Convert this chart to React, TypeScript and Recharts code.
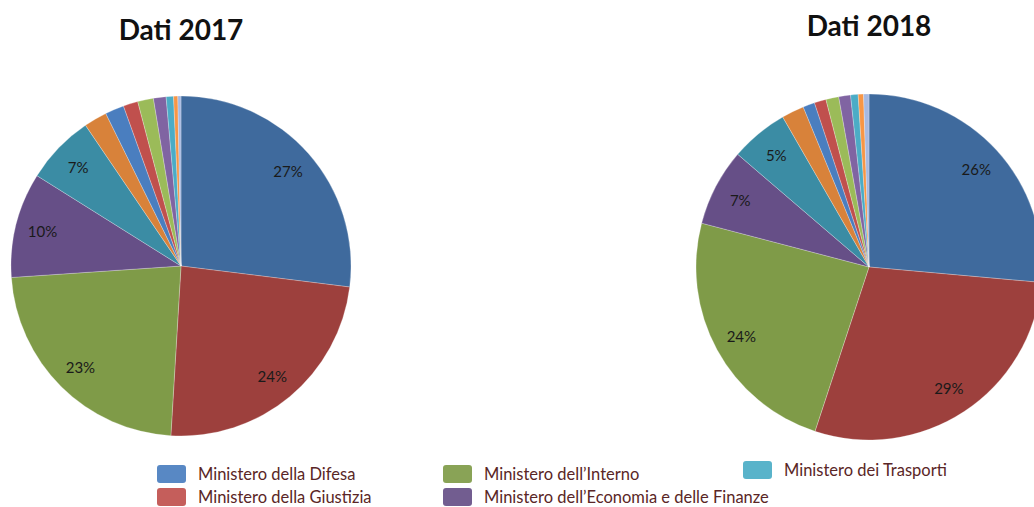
import { PieChart, Pie, Cell } from 'recharts';

// slice values in percent, clockwise from 12 o'clock
const values2017 = [27, 24, 23, 10, 6.6, 2.2, 1.8, 1.4, 1.5, 1.2, 0.7, 0.4, 0.3];
const values2018 = [26.4, 28.6, 24.0, 7.2, 5.4, 2.1, 1.1, 1.1, 1.2, 1.1, 0.7, 0.5, 0.5];

const sliceColors = [
  '#3F6A9D', '#9D403D', '#7F9B48', '#664F87', '#3B8CA4', '#D8823A',
  '#4A7EBF', '#C0504D', '#9BBB59', '#8064A2', '#4BACC6', '#F79646', '#A6B9E1',
];

const legendNames = [
  'Ministero della Difesa',
  'Ministero della Giustizia',
  "Ministero dell’Interno",
  "Ministero dell’Economia e delle Finanze",
  'Ministero dei Trasporti',
];
const legendColors = ['#4A7EBF', '#C0504D', '#7F9B48', '#664F87', '#4BACC6'];
// legend item positions (swatch x, row y)
const legendPos = [
  { x: 157, y: 474 },
  { x: 157, y: 497 },
  { x: 443, y: 474 },
  { x: 443, y: 497 },
  { x: 743, y: 470 },
];

const toRows = (vals: number[]) => vals.map((v, i) => ({ name: `voce ${i + 1}`, value: v }));

const RADIAN = Math.PI / 180;
const renderLabel = (p: any) => {
  if (p.percent < 0.045) return null;
  const r = p.outerRadius * 0.84;
  const x = p.cx + r * Math.cos(-p.midAngle * RADIAN);
  const y = p.cy + r * Math.sin(-p.midAngle * RADIAN);
  return (
    <text x={x} y={y} textAnchor="middle" dominantBaseline="central" fill="#1a1a1a" fontSize={15} fontFamily="Lato, sans-serif">
      {`${Math.round(p.percent * 100)}%`}
    </text>
  );
};

export default function App() {
  const d2017 = toRows(values2017);
  const d2018 = toRows(values2018);
  return (
    <div style={{ position: 'absolute', left: 0, top: 0, width: 1034, height: 507, background: '#fff', overflow: 'hidden', fontFamily: 'Lato, sans-serif' }}>
      <div style={{ position: 'absolute', left: 81, width: 200, top: 12, textAlign: 'center', fontWeight: 700, fontSize: 28, color: '#111' }}>Dati 2017</div>
      <div style={{ position: 'absolute', left: 769, width: 200, top: 8, textAlign: 'center', fontWeight: 700, fontSize: 28, color: '#111' }}>Dati 2018</div>
      <PieChart width={1034} height={507} margin={{ top: 0, right: 0, bottom: 0, left: 0 }}>
        <Pie data={d2017} dataKey="value" cx={181} cy={266} outerRadius={170} startAngle={90} endAngle={-270}
          label={renderLabel} labelLine={false} isAnimationActive={false} stroke="#ffffff" strokeOpacity={0.25} strokeWidth={1}>
          {d2017.map((_, i) => <Cell key={i} fill={sliceColors[i]} />)}
        </Pie>
        <Pie data={d2018} dataKey="value" cx={869} cy={267} outerRadius={173} startAngle={90} endAngle={-270}
          label={renderLabel} labelLine={false} isAnimationActive={false} stroke="#ffffff" strokeOpacity={0.25} strokeWidth={1}>
          {d2018.map((_, i) => <Cell key={i} fill={sliceColors[i]} />)}
        </Pie>
      </PieChart>
      {legendNames.map((n, i) => (
        <div key={n} style={{ position: 'absolute', left: legendPos[i].x, top: legendPos[i].y - 11, height: 22, display: 'flex', alignItems: 'center' }}>
          <div style={{ width: 29, height: 18, background: legendColors[i], borderRadius: 3, opacity: 0.92 }} />
          <span style={{ marginLeft: 12, fontSize: 16.5, color: '#5A2626', whiteSpace: 'nowrap' }}>{n}</span>
        </div>
      ))}
    </div>
  );
}
